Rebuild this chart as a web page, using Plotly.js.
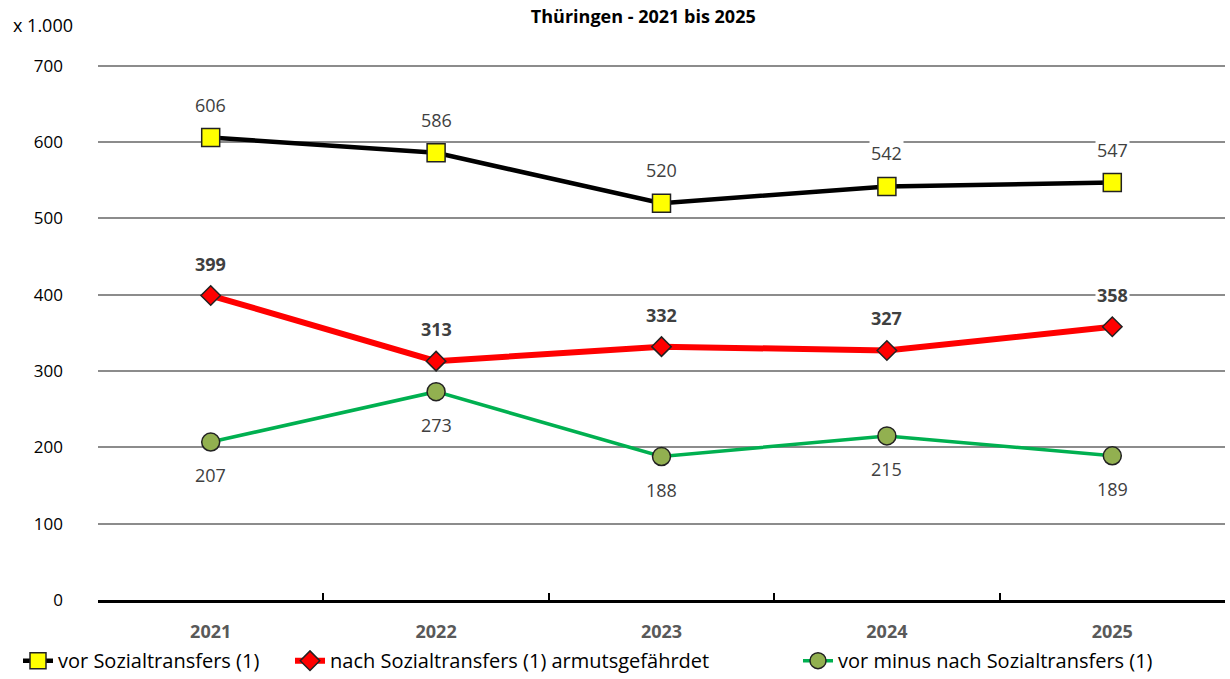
<!DOCTYPE html>
<html>
<head>
<meta charset="utf-8">
<script src="https://cdn.plot.ly/plotly-3.0.1.min.js"></script>
<style>body{margin:0;background:#fff}#myDiv{width:1230px;height:679px}</style>
</head>
<body>
<div id="myDiv"></div>
<script>
let jahre = ["2021", "2022", "2023", "2024", "2025"]
let vorSozial = [606, 586, 520, 542, 547]
let nachSozial = [399, 313, 332, 327, 358]
let differenz = [207, 273, 188, 215, 189]

let schrift = "Open Sans, Noto Sans, sans-serif"

let data = [
	{
		x: jahre, y: vorSozial, name: "vor Sozialtransfers (1)",
		mode: "lines+markers", legend: "legend",
		line: {color: "black", width: 4.5},
		marker: {symbol: "square", size: 18, color: "#ffff00", line: {color: "#222", width: 1.5}}
	},
	{
		x: jahre, y: nachSozial, name: "nach Sozialtransfers (1) armutsgefährdet",
		mode: "lines+markers", legend: "legend2",
		line: {color: "#ff0000", width: 6},
		marker: {symbol: "diamond", size: 15, color: "#ff0000", line: {color: "#222", width: 1.5}}
	},
	{
		x: jahre, y: differenz, name: "vor minus nach Sozialtransfers (1)",
		mode: "lines+markers", legend: "legend3",
		line: {color: "#00b050", width: 3.5},
		marker: {symbol: "circle", size: 18, color: "#92b050", line: {color: "#222", width: 1.5}}
	}
]

// Beschriftungen der Punkte (x als Kategorie-Index, sonst wird "2021" als Zahl gelesen)
let annos = []
let labFont = {size: 18, color: "#404040", family: schrift}
for (let i = 0; i < jahre.length; i++){
	annos.push({x: i, y: vorSozial[i], text: String(vorSozial[i]), showarrow: false, yshift: 33,
		bgcolor: "white", font: labFont})
	annos.push({x: i, y: nachSozial[i], text: `<b>${nachSozial[i]}</b>`, showarrow: false, yshift: 32,
		bgcolor: "white", font: labFont})
	annos.push({x: i, y: differenz[i], text: String(differenz[i]), showarrow: false, yshift: -33,
		bgcolor: "white", font: labFont})
}
annos.push({xref: "paper", yref: "paper", x: -0.077, y: 1.069, xanchor: "left", yanchor: "middle", text: "x 1.000",
	showarrow: false, font: {size: 18, color: "black", family: schrift}})

let legFont = {size: 20, color: "black", family: schrift}
let layout = {
	width: 1230, height: 679,
	margin: {l: 98, r: 5, t: 62, b: 79},
	paper_bgcolor: "white", plot_bgcolor: "white",
	font: {family: schrift},
	title: {text: "<b>Thüringen - 2021 bis 2025</b>", xref: "container", x: 0.523, y: 0.985,
		font: {size: 18, color: "black", family: schrift}},
	xaxis: {
		type: "category", range: [-0.5, 4.5], showgrid: false, zeroline: false,
		showline: true, linecolor: "black", linewidth: 2.5,
		ticks: "inside", tickson: "boundaries", ticklen: 7, tickwidth: 2, tickcolor: "black",
		ticklabelstandoff: 14,
		tickfont: {size: 18, color: "#595959", family: schrift, weight: "bold"}
	},
	yaxis: {
		range: [0, 705], tickvals: [0, 100, 200, 300, 400, 500, 600, 700],
		showgrid: true, gridcolor: "#8c8c8c", gridwidth: 1.5,
		zeroline: false, showline: false, ticks: "", ticklabelstandoff: 34,
		tickfont: {size: 17, color: "black", family: schrift}
	},
	showlegend: true,
	annotations: annos
}

// Drei Legenden nebeneinander, Lage in Containerkoordinaten
let legY = 0.027
let legX = [18, 290, 798]
let legNames = ["legend", "legend2", "legend3"]
for (let k = 0; k < legNames.length; k++){
	layout[legNames[k]] = {orientation: "h", xref: "container", yref: "container",
		x: legX[k] / 1230, y: legY, xanchor: "left", yanchor: "middle",
		font: legFont, bgcolor: "rgba(0,0,0,0)"}
}

Plotly.newPlot("myDiv", data, layout, {displayModeBar: false})
</script>
</body>
</html>
